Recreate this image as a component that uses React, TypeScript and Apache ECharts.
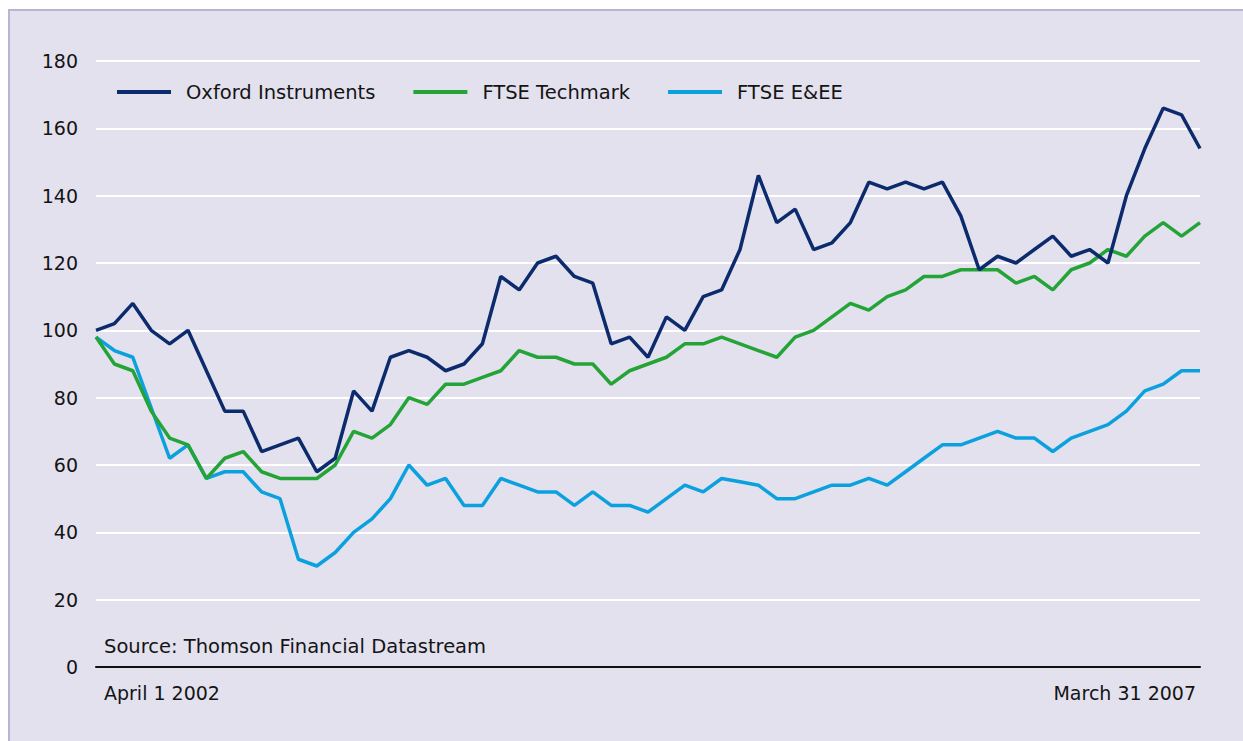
import React, { useEffect, useRef } from "react";
import * as echarts from "echarts";

const categories = (
  "2002-04-01 2002-04-30 2002-05-31 2002-06-30 2002-07-31 2002-08-31 2002-09-30 2002-10-31 2002-11-30 2002-12-31 " +
  "2003-01-31 2003-02-28 2003-03-31 2003-04-30 2003-05-31 2003-06-30 2003-07-31 2003-08-31 2003-09-30 2003-10-31 2003-11-30 2003-12-31 " +
  "2004-01-31 2004-02-29 2004-03-31 2004-04-30 2004-05-31 2004-06-30 2004-07-31 2004-08-31 2004-09-30 2004-10-31 2004-11-30 2004-12-31 " +
  "2005-01-31 2005-02-28 2005-03-31 2005-04-30 2005-05-31 2005-06-30 2005-07-31 2005-08-31 2005-09-30 2005-10-31 2005-11-30 2005-12-31 " +
  "2006-01-31 2006-02-28 2006-03-31 2006-04-30 2006-05-31 2006-06-30 2006-07-31 2006-08-31 2006-09-30 2006-10-31 2006-11-30 2006-12-31 " +
  "2007-01-31 2007-02-28 2007-03-31"
).split(" ");

const xTickLabels = ["April 1 2002", "March 31 2007"];
const yTicks = [0, 20, 40, 60, 80, 100, 120, 140, 160, 180];

const oxfordInstruments = [
  100, 102, 108, 100, 96, 100, 88, 76, 76, 64, 66, 68, 58, 62, 82, 76, 92, 94, 92, 88,
  90, 96, 116, 112, 120, 122, 116, 114, 96, 98, 92, 104, 100, 110, 112, 124, 146, 132, 136, 124,
  126, 132, 144, 142, 144, 142, 144, 134, 118, 122, 120, 124, 128, 122, 124, 120, 140, 154, 166, 164,
  154,
];

const ftseTechmark = [
  98, 90, 88, 76, 68, 66, 56, 62, 64, 58, 56, 56, 56, 60, 70, 68, 72, 80, 78, 84,
  84, 86, 88, 94, 92, 92, 90, 90, 84, 88, 90, 92, 96, 96, 98, 96, 94, 92, 98, 100,
  104, 108, 106, 110, 112, 116, 116, 118, 118, 118, 114, 116, 112, 118, 120, 124, 122, 128, 132, 128,
  132,
];

const ftseEEE = [
  98, 94, 92, 77, 62, 66, 56, 58, 58, 52, 50, 32, 30, 34, 40, 44, 50, 60, 54, 56,
  48, 48, 56, 54, 52, 52, 48, 52, 48, 48, 46, 50, 54, 52, 56, 55, 54, 50, 50, 52,
  54, 54, 56, 54, 58, 62, 66, 66, 68, 70, 68, 68, 64, 68, 70, 72, 76, 82, 84, 88,
  88,
];

const seriesNames = ["Oxford Instruments", "FTSE Techmark", "FTSE E&EE"];
const sourceText = "Source: Thomson Financial Datastream";

const FONT = "'DejaVu Sans', 'Noto Sans', sans-serif";
const TEXT = "#141414";
const FS = 19;
const FS_TEXT = 19.5;

export default function App() {
  const ref = useRef<HTMLDivElement>(null);
  useEffect(() => {
    if (!ref.current) return;
    const chart = echarts.init(ref.current, undefined, { renderer: "svg" });
    const last = categories.length - 1;
    chart.setOption({
      animation: false,
      textStyle: { fontFamily: FONT },
      title: {
        text: sourceText,
        left: 104,
        top: 636,
        padding: 0,
        textStyle: { fontFamily: FONT, fontSize: FS_TEXT, fontWeight: "normal", color: TEXT },
      },
      legend: {
        data: seriesNames,
        left: 117,
        top: 82,
        padding: 0,
        icon: "rect",
        itemWidth: 54,
        itemHeight: 4,
        itemGap: 38,
        textStyle: { fontFamily: FONT, fontSize: FS_TEXT, color: TEXT, padding: [0, 0, 0, 10] },
      },
      grid: { left: 96, right: 43, top: 61, bottom: 74, containLabel: false },
      xAxis: {
        type: "category",
        data: categories,
        boundaryGap: false,
        axisLine: { show: true, lineStyle: { color: "#111111", width: 2 } },
        axisTick: { show: false },
        splitLine: { show: false },
        axisLabel: {
          interval: (idx: number) => idx === 0 || idx === last,
          formatter: (_v: string, idx: number) => (idx === 0 ? xTickLabels[0] : idx === last ? xTickLabels[1] : ""),
          alignMinLabel: "left",
          alignMaxLabel: "right",
          padding: [0, 4, 0, 8],
          margin: 16,
          fontFamily: FONT,
          fontSize: FS,
          color: TEXT,
        },
      },
      yAxis: {
        type: "value",
        min: yTicks[0],
        max: yTicks[yTicks.length - 1],
        interval: 20,
        axisLine: { show: false },
        axisTick: { show: false },
        splitLine: { show: true, lineStyle: { color: "#ffffff", width: 2 } },
        axisLabel: { margin: 18, fontFamily: FONT, fontSize: FS, color: TEXT },
      },
      series: [
        {
          name: seriesNames[2],
          type: "line",
          data: ftseEEE,
          symbol: "none",
          color: "#0aa1de",
          lineStyle: { width: 3.5, color: "#0aa1de" },
        },
        {
          name: seriesNames[1],
          type: "line",
          data: ftseTechmark,
          symbol: "none",
          color: "#24a437",
          lineStyle: { width: 3.5, color: "#24a437" },
        },
        {
          name: seriesNames[0],
          type: "line",
          data: oxfordInstruments,
          symbol: "none",
          color: "#0b2b6d",
          lineStyle: { width: 3.5, color: "#0b2b6d" },
        },
      ],
    });
    return () => chart.dispose();
  }, []);

  return (
    <div style={{ position: "fixed", left: 0, top: 0, width: 1243, height: 741, background: "#ffffff", overflow: "hidden" }}>
      <div
        style={{
          position: "absolute",
          left: 8,
          top: 9,
          width: 1300,
          height: 800,
          background: "#e3e1ee",
          borderLeft: "2px solid #b8b4d4",
          borderTop: "2px solid #b8b4d4",
        }}
      />
      <div ref={ref} style={{ position: "absolute", left: 0, top: 0, width: 1243, height: 741 }} />
    </div>
  );
}
